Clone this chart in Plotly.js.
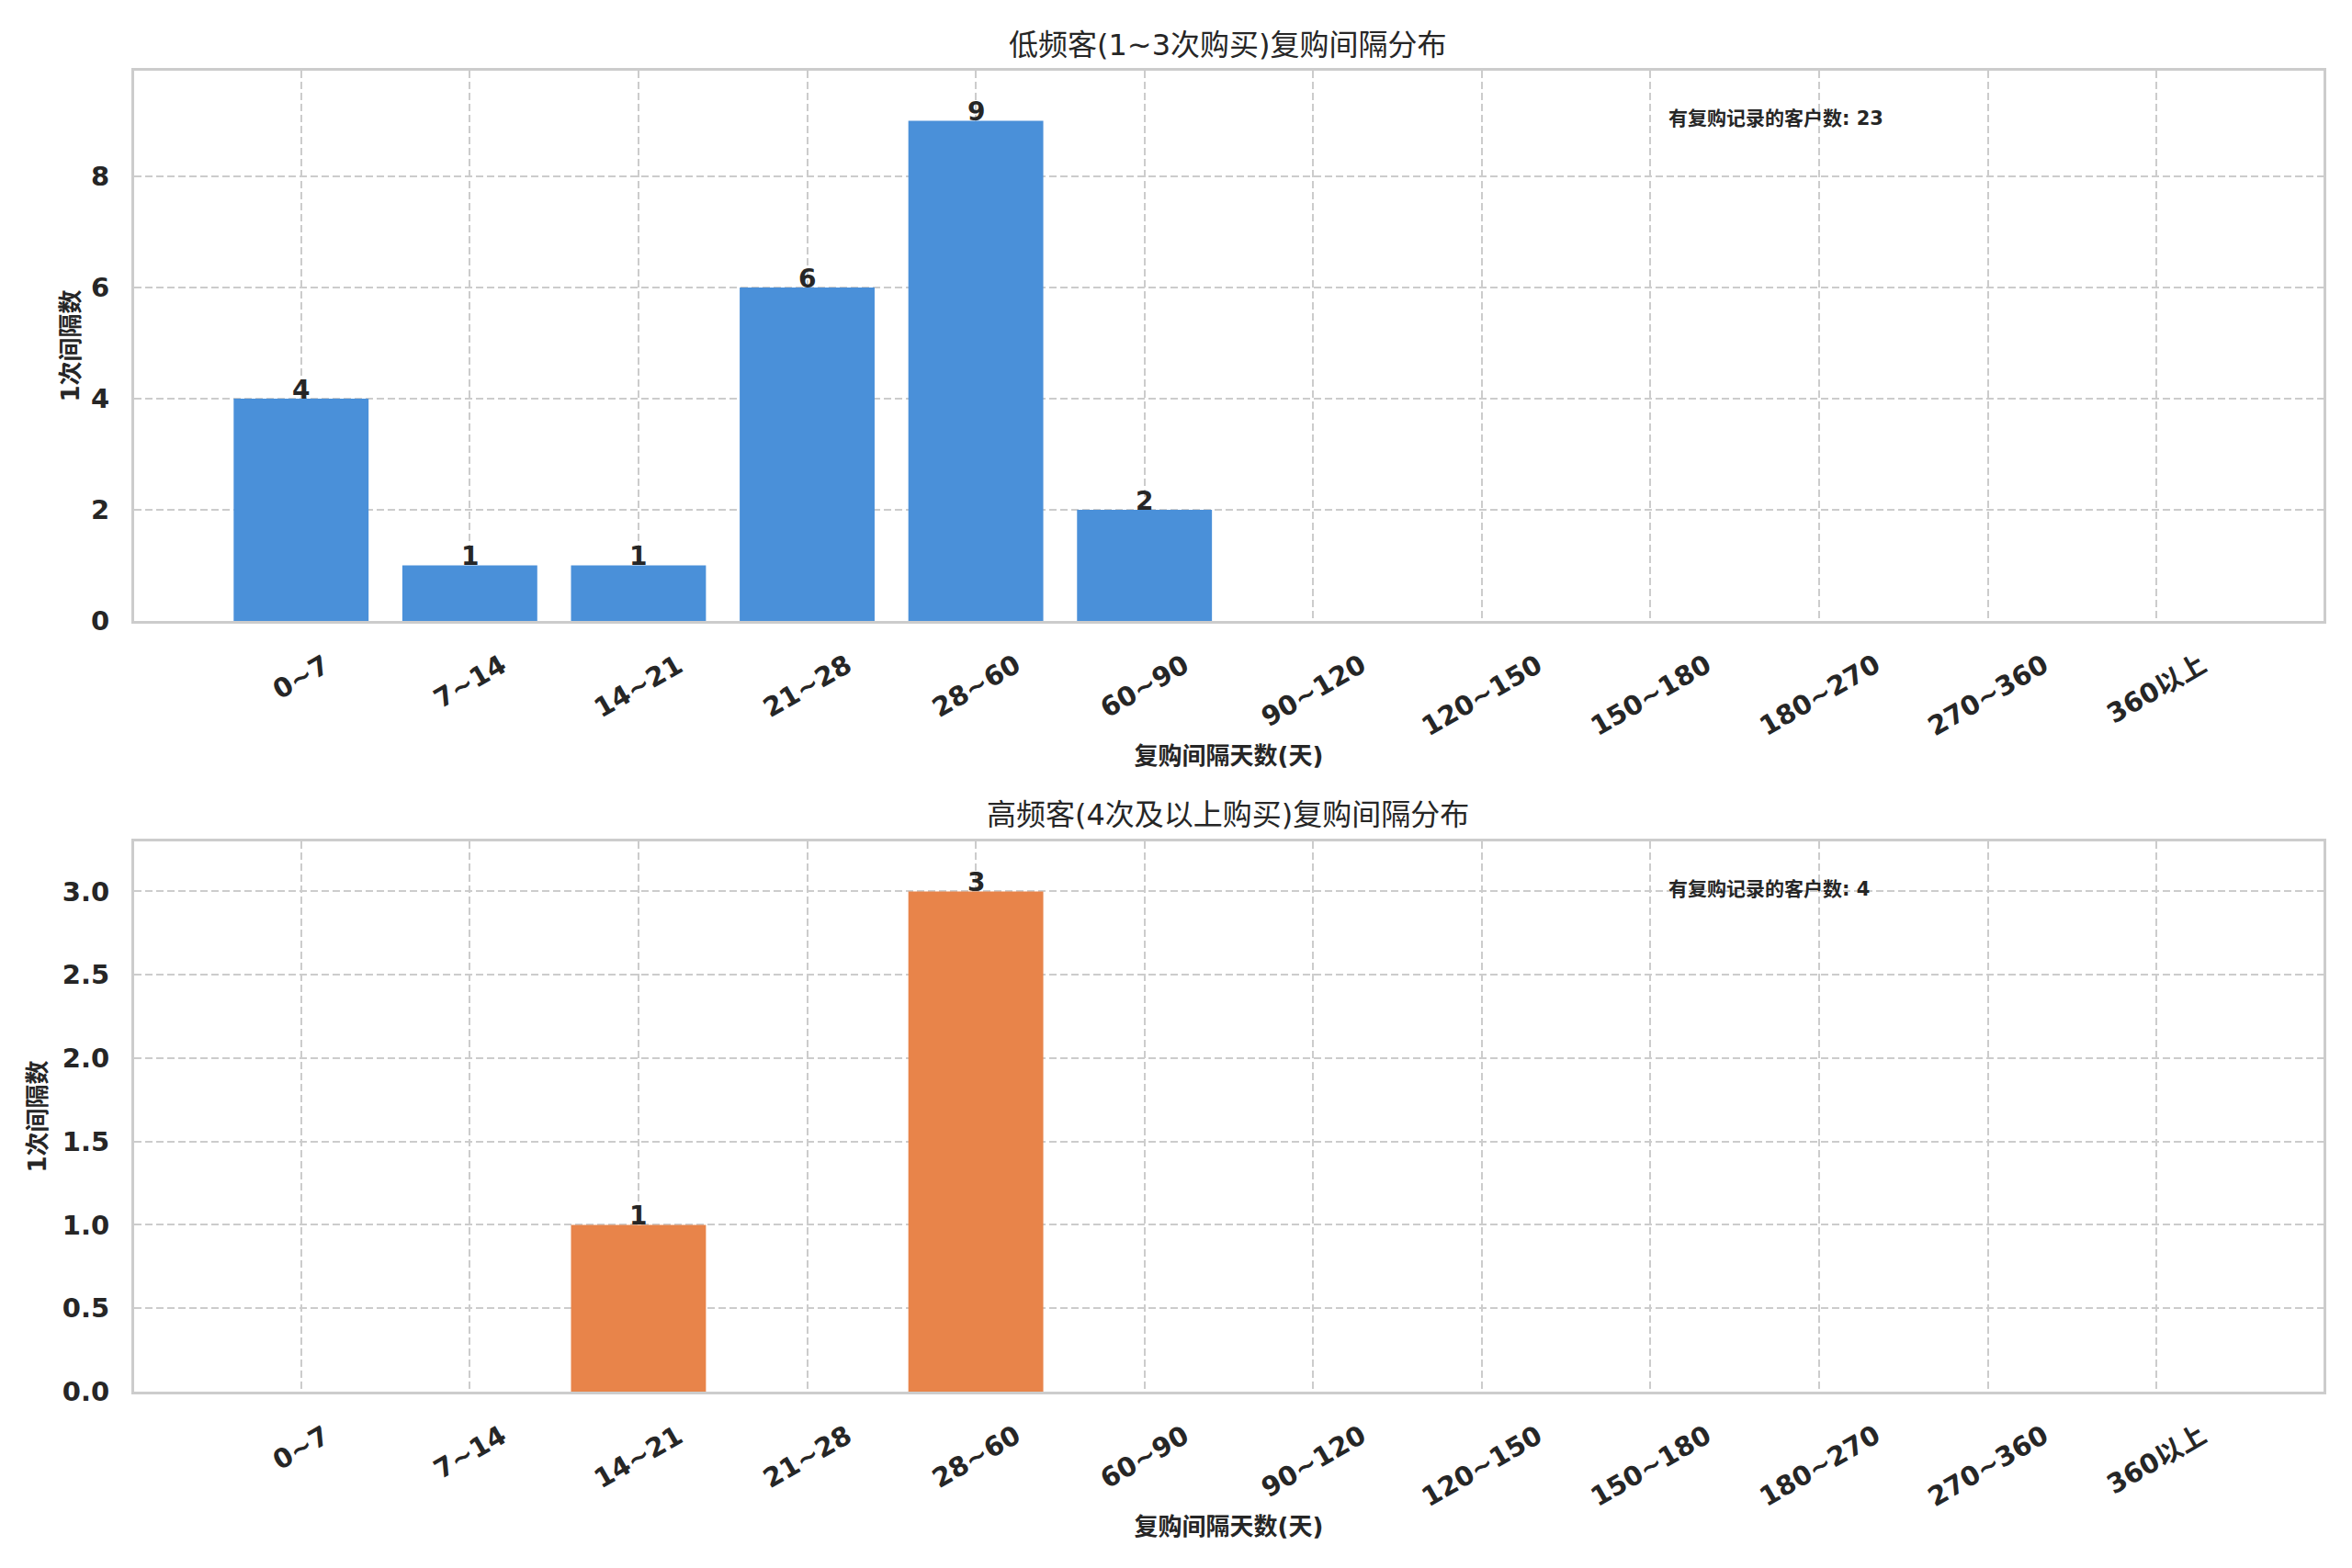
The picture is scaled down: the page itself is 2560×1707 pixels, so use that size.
<!DOCTYPE html>
<html>
<head>
<meta charset="utf-8">
<script src="https://cdn.plot.ly/plotly-3.0.1.min.js"></script>
<style>html,body{margin:0;padding:0;background:#fff;}</style>
</head>
<body>
<div id="chart" style="width:2560px;height:1707px;"></div>
<script>
const categories = ['0~7','7~14','14~21','21~28','28~60','60~90','90~120','120~150','150~180','180~270','270~360','360以上'];
const lowFreqCounts = [4, 1, 1, 6, 9, 2, 0, 0, 0, 0, 0, 0];
const highFreqCounts = [0, 0, 1, 0, 3, 0, 0, 0, 0, 0, 0, 0];
const lowFreqTitle = '低频客(1~3次购买)复购间隔分布';
const highFreqTitle = '高频客(4次及以上购买)复购间隔分布';
const xTitle = '复购间隔天数(天)';
const yTitle = '1次间隔数';
const totalLabel = '有复购记录的客户数';
const lowFreqTotal = 23;
const highFreqTotal = 4;

const FONT = 'DejaVu Sans, Noto Sans CJK SC, sans-serif';
const DARK = '#262626';
const GRID = '#cccccc';

const traces = [
  {type:'bar', x:categories, y:lowFreqCounts, xaxis:'x', yaxis:'y', width:0.8,
   marker:{color:'#4a90d9', line:{width:0}}, hoverinfo:'x+y'},
  {type:'bar', x:categories, y:highFreqCounts, xaxis:'x2', yaxis:'y2', width:0.8,
   marker:{color:'#e8844a', line:{width:0}}, hoverinfo:'x+y'}
];

function xaxisDef(anchor){
  return {
    domain:[146/2560, 2529/2560], anchor:anchor, type:'category',
    range:[-0.99, 11.99], showticklabels:false, ticks:'',
    showgrid:true, gridcolor:GRID, gridwidth:2, griddash:'8px,4px',
    showline:true, mirror:true, linecolor:GRID, linewidth:3, zeroline:false,
    title:{text:xTitle, font:{family:FONT, size:26, color:DARK, weight:'bold'}, standoff:136}
  };
}
function yaxisDef(anchor, domain, range, dtick, fmt, standoff){
  return {
    domain:domain, anchor:anchor, range:range, dtick:dtick, tick0:0, tickformat:fmt,
    ticks:'', ticklabelstandoff:18,
    tickfont:{family:FONT, size:29, color:DARK, weight:'bold'},
    showgrid:true, gridcolor:GRID, gridwidth:2, griddash:'8px,4px',
    showline:true, mirror:true, linecolor:GRID, linewidth:3, zeroline:false,
    title:{text:yTitle, font:{family:FONT, size:26, color:DARK, weight:'bold'}, standoff:standoff}
  };
}

const annotations = [];
[['x','y'],['x2','y2']].forEach(([xr, yr]) => {
  categories.forEach(c => {
    annotations.push({x:c, xref:xr, y:-0.045, yref:yr + ' domain', text:c, showarrow:false,
      textangle:-30, xanchor:'center', yanchor:'top',
      font:{family:FONT, size:29, color:DARK, weight:'bold'}});
  });
});
[['x','y',lowFreqCounts],['x2','y2',highFreqCounts]].forEach(([xr, yr, vals]) => {
  vals.forEach((v, i) => {
    if (v > 0) annotations.push({x:categories[i], xref:xr, y:v, yref:yr, text:String(v),
      showarrow:false, xanchor:'center', yanchor:'bottom', yshift:-9,
      font:{family:FONT, size:28, color:DARK, weight:'bold'}});
  });
});
annotations.push({x:1336/2560, xref:'paper', y:1-49/1707, yref:'paper', text:lowFreqTitle,
  showarrow:false, xanchor:'center', yanchor:'middle', font:{family:FONT, size:32, color:DARK}});
annotations.push({x:1336/2560, xref:'paper', y:1-887/1707, yref:'paper', text:highFreqTitle,
  showarrow:false, xanchor:'center', yanchor:'middle', font:{family:FONT, size:32, color:DARK}});
annotations.push({x:0.7, xref:'x domain', y:0.913, yref:'y domain', text:totalLabel + ': ' + lowFreqTotal,
  showarrow:false, xanchor:'left', yanchor:'middle', font:{family:FONT, size:21, color:DARK, weight:'bold'}});
annotations.push({x:0.7, xref:'x2 domain', y:0.913, yref:'y2 domain', text:totalLabel + ': ' + highFreqTotal,
  showarrow:false, xanchor:'left', yanchor:'middle', font:{family:FONT, size:21, color:DARK, weight:'bold'}});

const layout = {
  width:2560, height:1707, paper_bgcolor:'#ffffff', plot_bgcolor:'#ffffff',
  margin:{l:0, r:0, t:0, b:0}, showlegend:false, bargap:0.2,
  font:{family:FONT, color:DARK},
  xaxis: xaxisDef('y'),
  yaxis: yaxisDef('x', [1-676/1707, 1-77/1707], [0, 9.9], 2, 'd', 5),
  xaxis2: xaxisDef('y2'),
  yaxis2: yaxisDef('x2', [1-1515/1707, 1-916/1707], [0, 3.3], 0.5, '.1f', 10),
  annotations: annotations
};

Plotly.newPlot('chart', traces, layout, {displayModeBar:false, staticPlot:true});
</script>
</body>
</html>
